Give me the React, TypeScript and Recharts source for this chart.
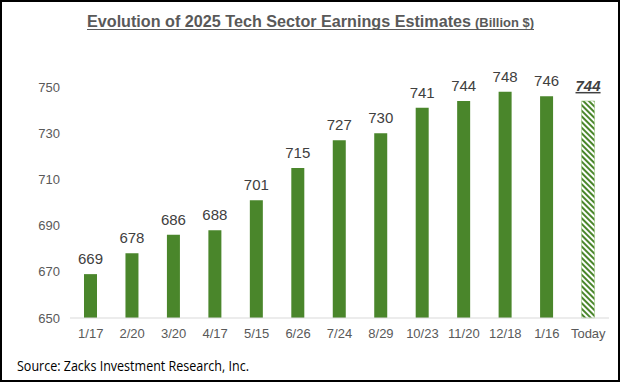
import React from "react";
import { BarChart, Bar, XAxis, YAxis, Cell, LabelList } from "recharts";

// dates of each estimate revision
const categories = ["1/17", "2/20", "3/20", "4/17", "5/15", "6/26", "7/24", "8/29", "10/23", "11/20", "12/18", "1/16", "Today"];
// 2025 tech sector earnings estimate, billion $
const estimates = [669, 678, 686, 688, 701, 715, 727, 730, 741, 744, 748, 746, 744];
const yTicks = [650, 670, 690, 710, 730, 750];

const data = categories.map((date, i) => ({ date, value: estimates[i] }));

const GREEN = "#4A862B";
const TEXT = "#595959";

const ValueLabel = (props: any) => {
  const { x, y, width, value, index } = props;
  const isToday = index === categories.length - 1;
  return (
    <text
      x={x + width / 2}
      y={y - 10}
      textAnchor="middle"
      fontSize={15}
      fontFamily="Liberation Sans, Arial, sans-serif"
      fill="#404040"
      fontWeight={isToday ? "bold" : "normal"}
      fontStyle={isToday ? "italic" : "normal"}
      textDecoration={isToday ? "underline" : "none"}
    >
      {value}
    </text>
  );
};

export default function App() {
  return (
    <div
      style={{
        position: "absolute",
        top: 0,
        left: 0,
        width: 620,
        height: 382,
        border: "2px solid #000",
        boxSizing: "border-box",
        background: "#fff",
      }}
    >
      <svg width={620} height={382} style={{ position: "absolute", top: -2, left: -2 }}>
        {/* title, underlined across the unit too */}
        <text
          x={87}
          y={27}
          fontSize={16}
          fontWeight="bold"
          fontFamily="Liberation Sans, Arial, sans-serif"
          fill={TEXT}
          textLength={384}
          lengthAdjust="spacingAndGlyphs"
        >
          Evolution of 2025 Tech Sector Earnings Estimates
        </text>
        <line x1={87} x2={534} y1={29.5} y2={29.5} stroke={TEXT} strokeWidth={1.2} />
        <text
          x={475}
          y={27}
          fontSize={12}
          fontWeight="bold"
          fontFamily="Liberation Sans, Arial, sans-serif"
          fill={TEXT}
          textLength={59}
          lengthAdjust="spacingAndGlyphs"
        >
          (Billion $)
        </text>
        <text
          x={17}
          y={371}
          fontSize={14}
          fontFamily="Open Sans, sans-serif"
          fill="#000"
          textLength={232}
          lengthAdjust="spacingAndGlyphs"
        >
          Source: Zacks Investment Research, Inc.
        </text>
      </svg>
      <div style={{ position: "absolute", top: -2, left: -2 }}>
        <BarChart
          width={620}
          height={382}
          data={data}
          margin={{ top: 64, right: 11, left: 0, bottom: 34 }}
          barCategoryGap="35%"
        >
          <defs>
            <pattern id="hatch" width={4} height={4} patternUnits="userSpaceOnUse" patternTransform="rotate(-45)">
              <rect width={4} height={4} fill="#fff" />
              <rect width={2} height={4} fill={GREEN} />
            </pattern>
          </defs>
          <XAxis
            dataKey="date"
            axisLine={{ stroke: "#D9D9D9" }}
            tickLine={false}
            tickSize={0}
            tickMargin={11}
            height={30}
            interval={0}
            tick={{ fill: TEXT, fontSize: 13, fontFamily: "Liberation Sans, Arial, sans-serif" }}
          />
          <YAxis
            domain={[650, 760]}
            ticks={yTicks}
            axisLine={false}
            tickLine={false}
            tickSize={0}
            tickMargin={10}
            width={70}
            tick={{ fill: TEXT, fontSize: 13, fontFamily: "Liberation Sans, Arial, sans-serif" }}
          />
          <Bar dataKey="value" barSize={13} isAnimationActive={false}>
            {data.map((d, i) => (
              <Cell
                key={d.date}
                fill={i === data.length - 1 ? "url(#hatch)" : GREEN}
                stroke={i === data.length - 1 ? "#8FBF6F" : "none"}
                strokeWidth={i === data.length - 1 ? 0.5 : 0}
              />
            ))}
            <LabelList dataKey="value" content={ValueLabel} />
          </Bar>
        </BarChart>
      </div>
    </div>
  );
}
